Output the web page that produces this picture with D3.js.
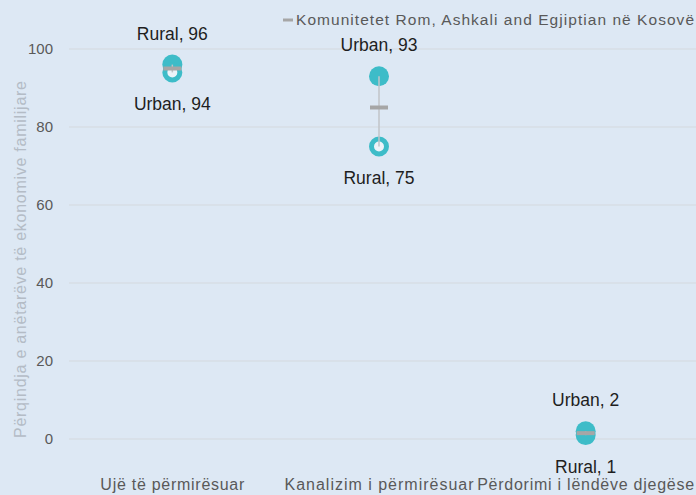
<!DOCTYPE html>
<html>
<head>
<meta charset="utf-8">
<script src="https://cdn.jsdelivr.net/npm/d3@7/dist/d3.min.js"></script>
<style>
  html, body { margin: 0; padding: 0; background: #dde8f4; }
  svg { display: block; }
  text { font-family: "Liberation Sans", Arial, sans-serif; }
</style>
</head>
<body>
<svg id="chart" width="696" height="495"></svg>
<script>
// Access to improved services by area (percent of household members)
const categories = ["Ujë të përmirësuar", "Kanalizim i përmirësuar", "Përdorimi i lëndëve djegëse"];
const urban = [94, 93, 2];
const rural = [96, 75, 1];
const community = [95, 85, 1.5];
const yTicks = [0, 20, 40, 60, 80, 100];
const legendLabel = "Komunitetet Rom, Ashkali and Egjiptian në Kosovë";
const yTitle = "Përqindja e anëtarëve të ekonomive familijare";

const W = 696, H = 495;
const margin = { top: 49, right: 7, bottom: 56, left: 69 };
const bg = "#dde8f4";
const teal = "#3dbcc8";
const grey = "#a6a6a6";

const svg = d3.select("#chart");
svg.append("rect").attr("width", W).attr("height", H).attr("fill", bg);

const x = d3.scaleBand()
  .domain(categories)
  .range([margin.left, W - margin.right]);

const y = d3.scaleLinear()
  .domain([0, 100])
  .range([H - margin.bottom, margin.top]);

// Gridlines
svg.append("g")
  .selectAll("line")
  .data(yTicks)
  .join("line")
  .attr("x1", margin.left)
  .attr("x2", W)
  .attr("y1", d => y(d))
  .attr("y2", d => y(d))
  .attr("stroke", "#d4d9de")
  .attr("stroke-width", 1);

// Y axis tick labels
const yAxis = d3.axisLeft(y).tickValues(yTicks).tickSize(0).tickPadding(0);
const gy = svg.append("g")
  .attr("transform", `translate(${margin.left - 16},0)`)
  .call(yAxis);
gy.select(".domain").remove();
gy.selectAll("text")
  .attr("fill", "#595959")
  .attr("font-size", 15)
  .style("font-family", "'Liberation Sans', Arial, sans-serif");

// X axis category labels
const xLabelWidths = [144, 189, 217];
const xAxis = d3.axisBottom(x).tickSize(0).tickPadding(0);
const gx = svg.append("g")
  .attr("transform", `translate(0,${H - 11})`)
  .call(xAxis);
gx.select(".domain").remove();
gx.selectAll("text")
  .attr("fill", "#595959")
  .attr("font-size", 16)
  .attr("dy", "0.35em")
  .attr("textLength", (d, i) => xLabelWidths[i])
  .attr("lengthAdjust", "spacing")
  .style("font-family", "'Liberation Sans', Arial, sans-serif");

// Y axis title
svg.append("text")
  .attr("transform", `translate(26,${(y(0) + 80) / 2}) rotate(-90)`)
  .attr("text-anchor", "middle")
  .attr("fill", "#b4bcc6")
  .attr("font-size", 16)
  .attr("textLength", 357)
  .attr("lengthAdjust", "spacing")
  .text(yTitle);

// Per-category records
const rows = categories.map((c, i) => {
  const uHigh = urban[i] >= rural[i];
  return {
    cat: c,
    urban: { v: urban[i], filled: uHigh },
    rural: { v: rural[i], filled: !uHigh },
    high: uHigh ? { name: "Urban", v: urban[i] } : { name: "Rural", v: rural[i] },
    low: uHigh ? { name: "Rural", v: rural[i] } : { name: "Urban", v: urban[i] },
    mid: community[i]
  };
});
const cx = d => x(d.cat) + x.bandwidth() / 2;

// Markers: higher value filled, lower value as a ring; rural drawn first, urban on top
function drawMarkers(key) {
  const g = svg.append("g");
  rows.forEach(d => {
    const m = d[key];
    const c = g.append("circle")
      .attr("cx", cx(d))
      .attr("cy", y(m.v));
    if (m.filled) {
      c.attr("r", 10).attr("fill", teal);
    } else {
      c.attr("r", 7.5).attr("fill", "#edf3f9")
        .attr("stroke", teal).attr("stroke-width", 5);
    }
  });
}
drawMarkers("rural");
drawMarkers("urban");

// High-low connector
svg.append("g").selectAll("line")
  .data(rows)
  .join("line")
  .attr("x1", cx).attr("x2", cx)
  .attr("y1", d => y(d.high.v))
  .attr("y2", d => y(d.low.v))
  .attr("stroke", "#c0c4c8")
  .attr("stroke-width", 1.5);

// Community value dash
svg.append("g").selectAll("line")
  .data(rows)
  .join("line")
  .attr("x1", d => cx(d) - 9).attr("x2", d => cx(d) + 9)
  .attr("y1", d => y(d.mid)).attr("y2", d => y(d.mid))
  .attr("stroke", grey)
  .attr("stroke-width", 4);

// Data labels
const labels = svg.append("g")
  .attr("font-size", 17.5)
  .attr("fill", "#1e1e1e")
  .attr("text-anchor", "middle");
labels.selectAll("text.hi")
  .data(rows)
  .join("text")
  .attr("class", "hi")
  .attr("x", cx)
  .attr("y", d => y(d.high.v) - 31)
  .attr("dy", "0.35em")
  .text(d => `${d.high.name}, ${d.high.v}`);
labels.selectAll("text.lo")
  .data(rows)
  .join("text")
  .attr("class", "lo")
  .attr("x", cx)
  .attr("y", d => y(d.low.v) + 31.5)
  .attr("dy", "0.35em")
  .text(d => `${d.low.name}, ${d.low.v}`);

// Legend
const lg = svg.append("g").attr("transform", "translate(283,20)");
lg.append("line")
  .attr("x1", 0).attr("x2", 10)
  .attr("stroke", grey).attr("stroke-width", 3);
lg.append("text")
  .attr("x", 13)
  .attr("dy", "0.35em")
  .attr("font-size", 15.5)
  .attr("fill", "#595959")
  .attr("textLength", 398)
  .attr("lengthAdjust", "spacing")
  .text(legendLabel);
</script>
</body>
</html>
